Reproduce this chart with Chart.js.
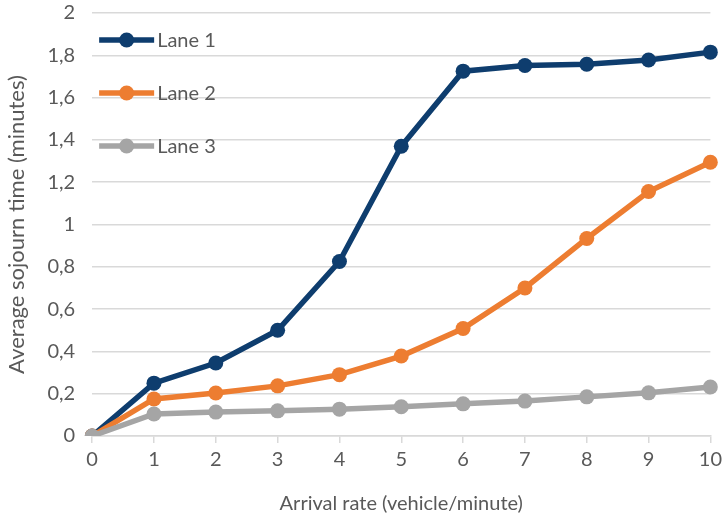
<!DOCTYPE html>
<html>
<head>
<meta charset="utf-8">
<script src="https://cdn.jsdelivr.net/npm/chart.js@4"></script>
<style>
  html, body { margin: 0; padding: 0; background: #fff; }
  #wrap { width: 727px; height: 522px; }
</style>
</head>
<body>
<div id="wrap"><canvas id="sojournChart" width="727" height="522"></canvas></div>
<script>
const arrivalRates = ["0", "1", "2", "3", "4", "5", "6", "7", "8", "9", "10"];
const lane1 = [0, 0.25, 0.345, 0.5, 0.825, 1.37, 1.725, 1.752, 1.758, 1.778, 1.815];
const lane2 = [0, 0.175, 0.203, 0.237, 0.29, 0.378, 0.508, 0.70, 0.934, 1.156, 1.294];
const lane3 = [0, 0.104, 0.113, 0.119, 0.127, 0.138, 0.152, 0.165, 0.185, 0.204, 0.232];
const laneNames = ["Lane 1", "Lane 2", "Lane 3"];
const laneColors = ["#0e3d6e", "#ed7d31", "#a5a5a5"];

const FONT = "Lato, 'Open Sans', sans-serif";
const TEXT = "#595959";

function makeSet(label, data, color, order) {
  return {
    label: label,
    data: data,
    order: order,
    borderColor: color,
    backgroundColor: color,
    borderWidth: 5.5,
    pointRadius: 7.5,
    pointHoverRadius: 7.5,
    pointBorderWidth: 0,
    pointBackgroundColor: color,
    tension: 0,
  };
}

// legend drawn inside the plot, top-left, one entry per row
const insideLegend = {
  id: "insideLegend",
  afterDatasetsDraw(chart) {
    const ctx = chart.ctx;
    const area = chart.chartArea;
    ctx.save();
    chart.data.datasets.forEach((ds, i) => {
      const y = area.top + 27 + i * 53;
      const x0 = area.left + 7;
      const x1 = area.left + 62;
      ctx.strokeStyle = ds.borderColor;
      ctx.lineWidth = 5.5;
      ctx.beginPath();
      ctx.moveTo(x0, y);
      ctx.lineTo(x1, y);
      ctx.stroke();
      ctx.fillStyle = ds.borderColor;
      ctx.beginPath();
      ctx.arc((x0 + x1) / 2, y, 7.5, 0, Math.PI * 2);
      ctx.fill();
      ctx.fillStyle = TEXT;
      ctx.font = "20px " + FONT;
      ctx.textBaseline = "middle";
      ctx.textAlign = "left";
      ctx.fillText(ds.label, x1 + 3, y + 1);
    });
    ctx.restore();
  },
};

const ctx = document.getElementById("sojournChart").getContext("2d");
new Chart(ctx, {
  type: "line",
  data: {
    labels: arrivalRates,
    datasets: [
      makeSet(laneNames[0], lane1, laneColors[0], 3),
      makeSet(laneNames[1], lane2, laneColors[1], 2),
      makeSet(laneNames[2], lane3, laneColors[2], 1),
    ],
  },
  options: {
    responsive: false,
    animation: false,
    layout: { padding: { left: 4, right: 7, top: 0, bottom: 6 } },
    plugins: {
      legend: { display: false },
      tooltip: { enabled: false },
    },
    scales: {
      x: {
        offset: false,
        grid: {
          drawOnChartArea: false,
          drawTicks: true,
          tickLength: 7,
          color: "#d9d9d9",
          lineWidth: 1.5,
        },
        border: { display: true, color: "#d9d9d9", width: 1.5 },
        ticks: {
          color: TEXT,
          font: { family: FONT, size: 20 },
          padding: 5,
          maxRotation: 0,
        },
        title: {
          display: true,
          text: "Arrival rate (vehicle/minute)",
          color: TEXT,
          font: { family: FONT, size: 20 },
          padding: { top: 15, bottom: 0 },
        },
      },
      y: {
        min: 0,
        max: 2,
        afterFit: (scale) => {
          // tick padding is meant for the gap to the plot, not above it
          scale.paddingTop = 13;
          scale.paddingBottom = 12;
        },
        ticks: {
          stepSize: 0.2,
          color: TEXT,
          font: { family: FONT, size: 20 },
          padding: 17,
          callback: (v) => (Math.round(v * 10) / 10).toString().replace(".", ","),
        },
        grid: { color: "#d9d9d9", lineWidth: 1.5, drawTicks: false },
        border: { display: false },
        title: {
          display: true,
          text: "Average sojourn time (minutes)",
          color: TEXT,
          font: { family: FONT, size: 22 },
          padding: { top: 0, bottom: 0 },
        },
      },
    },
  },
  plugins: [insideLegend],
});
</script>
</body>
</html>
